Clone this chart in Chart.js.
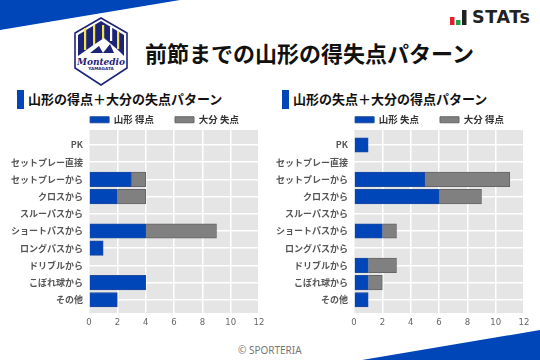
<!DOCTYPE html>
<html lang="ja">
<head>
<meta charset="utf-8">
<script src="https://cdn.jsdelivr.net/npm/chart.js@4"></script>
<style>
html,body{margin:0;padding:0;background:#fff;}
#page{position:relative;width:540px;height:360px;overflow:hidden;font-family:"Noto Sans CJK JP",sans-serif;}
#page svg,#page canvas,#page div{position:absolute;}
#deco{left:0;top:0;}
#titulo{left:145px;top:36px;font-size:22px;font-weight:700;color:#111;line-height:32px;white-space:nowrap;}
.sub{top:89px;font-size:13px;font-weight:700;color:#111;line-height:20px;white-space:nowrap;}
.tag{top:90px;width:7px;height:19px;background:#0046b8;}
#stats{left:472px;top:7px;font-family:"DejaVu Sans",sans-serif;font-size:17.5px;font-weight:700;color:#222;line-height:20px;letter-spacing:.6px;}
#copy{left:238px;top:343px;font-family:"Noto Sans",sans-serif;font-size:10px;color:#777;line-height:14px;white-space:nowrap;}
#graf1{left:0;top:94px;}
#graf2{left:265px;top:94px;}
</style>
</head>
<body>
<div id="page">
<svg id="deco" width="540" height="360" viewBox="0 0 540 360">
  <polygon points="0,0 180,0 0,30" fill="#0046b8"/>
  <polygon points="362,360 540,330 540,360" fill="#0046b8"/>
  <rect x="450" y="17" width="4.5" height="8" fill="#e0202c"/>
  <rect x="456" y="20" width="4.5" height="5" fill="#1fa34a"/>
  <rect x="462" y="10" width="4.5" height="15" fill="#222"/>
  <polygon points="101,18 127,33 127,68 101,85 75,68 75,33" fill="#fff" stroke="#1c2478" stroke-width="1.6"/>
  <polygon points="78,35 101,21 124,35 124,56 78,56" fill="#1c2478"/>
  <rect x="84" y="28" width="2.2" height="22" fill="#f5e24a"/>
  <rect x="93" y="25" width="2.2" height="20" fill="#f5e24a"/>
  <rect x="102" y="25" width="2.2" height="14" fill="#f5e24a"/>
  <rect x="110" y="27" width="2.2" height="14" fill="#fff"/>
  <rect x="117" y="31" width="2.2" height="18" fill="#f5e24a"/>
  <polygon points="78,56 92,46 104,38 118,50 124,56" fill="#fff"/>
  <polygon points="90,53 99,46 103,53 110,44 114,53" fill="#1c2478"/>
  <text x="101" y="64.5" text-anchor="middle" font-family="'DejaVu Serif',serif" font-style="italic" font-weight="700" font-size="9" fill="#1c2478">Montedio</text>
  <text x="101" y="70" text-anchor="middle" font-family="'DejaVu Sans',sans-serif" font-weight="700" font-size="4.2" fill="#1c2478">YAMAGATA</text>
</svg>
<div id="stats">STATs</div>
<div id="titulo">前節までの山形の得失点パターン</div>
<div class="tag" style="left:17px"></div>
<div class="sub" style="left:28px">山形の得点＋大分の失点パターン</div>
<div class="tag" style="left:282px"></div>
<div class="sub" style="left:293px">山形の失点＋大分の得点パターン</div>
<canvas id="graf1" width="270" height="246"></canvas>
<canvas id="graf2" width="270" height="246"></canvas>
<div id="copy">© SPORTERIA</div>
</div>
<script>
const categorias = ["PK","セットプレー直接","セットプレーから","クロスから","スルーパスから","ショートパスから","ロングパスから","ドリブルから","こぼれ球から","その他"];
const xTicks = [0,2,4,6,8,10,12];

const yamagataGolos = [0,0,3,2,0,4,1,0,4,2];
const oitaSofridos = [0,0,1,2,0,5,0,0,0,0];
const yamagataSofridos = [1,0,5,6,0,2,0,1,1,1];
const oitaGolos = [0,0,6,3,0,1,0,2,1,0];

const azul = "#0046b8";
const cinza = "#808080";

function pontos(valores){
    return categorias.map(function(c, i){
        return {x: valores[i], y: i};
    });
}

// fundo cinza da area do grafico + legenda com altura fixa, centrada sobre a area
const fundoPlugin = {
    id: "fundo",
    beforeInit: function(chart){
        const fit = chart.legend.fit;
        chart.legend.fit = function(){
            fit.call(this);
            this.height = 36;
        };
    },
    afterLayout: function(chart){
        chart.legend.left += 35;
        chart.legend.right += 35;
    },
    beforeDraw: function(chart){
        const a = chart.chartArea;
        chart.ctx.fillStyle = "#e5e5e5";
        chart.ctx.fillRect(a.left, a.top, a.right - a.left, a.bottom - a.top);
    }
};

function criaGrafico(id, label1, valores1, label2, valores2){
    new Chart(document.getElementById(id), {
        type: "bar",
        plugins: [fundoPlugin],
        data: {
            datasets: [
                {label: label1, data: pontos(valores1), backgroundColor: azul, borderColor: "#1c4a9c", borderWidth: 1, barThickness: 14.5},
                {label: label2, data: pontos(valores2), backgroundColor: cinza, borderColor: "#666", borderWidth: 1, barThickness: 14.5}
            ]
        },
        options: {
            indexAxis: "y",
            responsive: false,
            animation: false,
            layout: {padding: {left: 0, right: 11, top: 0, bottom: 0}},
            plugins: {
                tooltip: {enabled: false},
                legend: {
                    position: "top",
                    labels: {
                        boxWidth: 19,
                        boxHeight: 6,
                        padding: 21,
                        color: "#333",
                        font: {family: "'Noto Sans CJK JP'", size: 9.5, weight: "700"}
                    }
                }
            },
            scales: {
                x: {
                    stacked: true,
                    min: 0,
                    max: 12,
                    afterBuildTicks: function(axis){
                        axis.ticks = xTicks.map(function(v){ return {value: v}; });
                    },
                    afterFit: function(axis){ axis.height = 27; },
                    grid: {color: "#fff", lineWidth: 1.5, drawTicks: false},
                    border: {display: false},
                    ticks: {
                        color: "#666",
                        padding: 5,
                        maxRotation: 0,
                        font: {family: "'DejaVu Sans'", size: 8.5}
                    }
                },
                y: {
                    type: "linear",
                    stacked: true,
                    reverse: true,
                    offset: false,
                    min: -0.87,
                    max: 9.77,
                    afterBuildTicks: function(axis){
                        axis.ticks = categorias.map(function(c, i){ return {value: i}; });
                    },
                    afterFit: function(axis){ axis.width = 89; },
                    grid: {color: "#fff", lineWidth: 1.5, drawTicks: false, offset: false},
                    border: {display: false},
                    ticks: {
                        color: "#555",
                        padding: 6,
                        autoSkip: false,
                        callback: function(v){ return categorias[v]; },
                        font: {family: "'Noto Sans CJK JP'", size: 9, weight: "700"}
                    }
                }
            }
        }
    });
}

criaGrafico("graf1", "山形 得点", yamagataGolos, "大分 失点", oitaSofridos);
criaGrafico("graf2", "山形 失点", yamagataSofridos, "大分 得点", oitaGolos);
</script>
</body>
</html>
